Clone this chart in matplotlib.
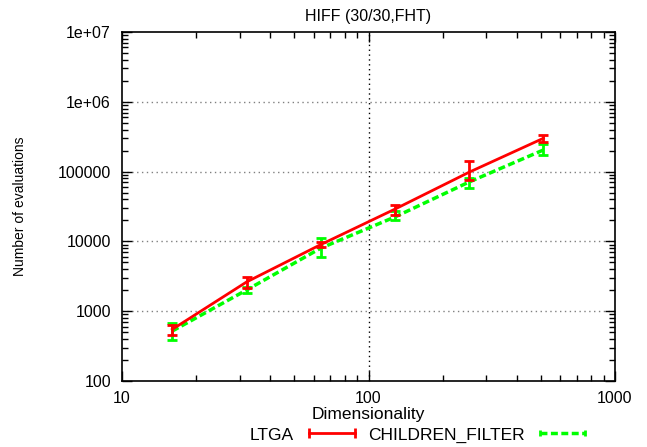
import numpy as np
import matplotlib
matplotlib.use('Agg')
import matplotlib.pyplot as plt
from matplotlib.lines import Line2D
from matplotlib.ticker import FixedLocator, FixedFormatter, LogLocator, NullFormatter

plt.rcParams['font.family'] = ['Liberation Sans', 'DejaVu Sans']

# data
dims = [16, 32, 64, 128, 256, 512]

ltga_mean = [550, 2620, 9000, 29000, 98000, 300000]
ltga_lo = [456, 2150, 8300, 23900, 75900, 265000]
ltga_hi = [634, 3090, 9800, 33200, 142000, 334000]

cf_mean = [520, 2010, 8000, 22400, 71000, 204000]
cf_lo = [387, 1850, 5980, 20200, 58200, 173000]
cf_hi = [678, 2200, 11200, 27300, 80900, 248000]

yticks = [100, 1000, 10000, 100000, 1e6, 1e7]
ytick_labels = ['100', '1000', '10000', '100000', '1e+06', '1e+07']
xticks = [10, 100, 1000]
xtick_labels = ['10', '100', '1000']

fig = plt.figure(figsize=(6.47, 4.47), dpi=100)
ax = fig.add_axes([122/647, 66/447, 493/647, 349/447])


def errs(mean, lo, hi):
    m = np.array(mean, dtype=float)
    return [m - np.array(lo), np.array(hi) - m]


ax.errorbar(dims, ltga_mean, yerr=errs(ltga_mean, ltga_lo, ltga_hi),
            color='#ff0000', lw=2, capsize=3.5, capthick=2, elinewidth=2,
            zorder=4)
ax.errorbar(dims, cf_mean, yerr=errs(cf_mean, cf_lo, cf_hi),
            color='#00ff00', lw=2.5, ls=(0, (2, 1)), capsize=3.5, capthick=2,
            elinewidth=2, zorder=3)

ax.set_xscale('log')
ax.set_yscale('log')
ax.set_xlim(10, 1000)
ax.set_ylim(100, 1e7)

ax.xaxis.set_major_locator(FixedLocator(xticks))
ax.xaxis.set_major_formatter(FixedFormatter(xtick_labels))
ax.yaxis.set_major_locator(FixedLocator(yticks))
ax.yaxis.set_major_formatter(FixedFormatter(ytick_labels))
ax.xaxis.set_minor_locator(LogLocator(base=10, subs=np.arange(2, 10)))
ax.yaxis.set_minor_locator(LogLocator(base=10, subs=np.arange(2, 10)))
ax.xaxis.set_minor_formatter(NullFormatter())
ax.yaxis.set_minor_formatter(NullFormatter())

ax.tick_params(which='both', direction='in', top=True, right=True,
               labelsize=11.5, pad=7)
ax.tick_params(which='major', length=7, width=1)
ax.tick_params(which='minor', length=4, width=1)
ax.tick_params(axis='y', pad=8)

for y in yticks[1:-1]:
    ax.axhline(y, color='#808080', lw=1, ls=(0, (1, 2.5)), zorder=1)
ax.axvline(100, color='black', lw=1, ls=(0, (1, 2.5)), zorder=1)

for s in ax.spines.values():
    s.set_linewidth(1.2)

ax.set_title('HIFF (30/30,FHT)', fontsize=11.5, pad=8)
ax.set_xlabel('Dimensionality', fontsize=12.5, labelpad=1)
ax.set_ylabel('Number of evaluations', fontsize=10, labelpad=22)

h1 = Line2D([], [], color='#ff0000', lw=2, marker='|', markersize=7, mew=2)
h2 = Line2D([], [], color='#00ff00', lw=2.5, ls=(0, (2, 1)), marker='|',
            markersize=4, mew=2)
fig.legend([h1, h2], ['LTGA', 'CHILDREN_FILTER'], ncol=2, frameon=False,
           markerfirst=False, numpoints=2, loc='center',
           bbox_to_anchor=(420/647, 1 - 435/447), fontsize=12.5,
           handlelength=3.2, columnspacing=0.45, handletextpad=0.6,
           borderpad=0)

fig.savefig('out.png', dpi=100)
